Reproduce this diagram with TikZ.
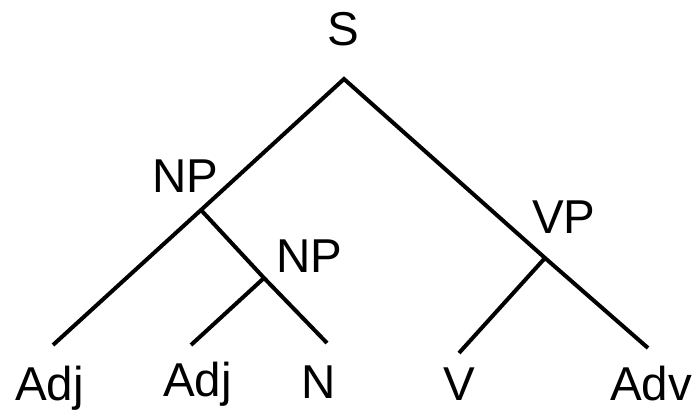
\documentclass[tikz,border=0pt]{standalone}
\usepackage{fontspec}
\setmainfont{Liberation Sans}
\begin{document}
\begin{tikzpicture}[x=1pt,y=-1pt,
  cat/.style={inner sep=0pt,outer sep=0pt,anchor=base west,font=\fontsize{47.5}{56}\selectfont},
  branch/.style={line width=4pt,black}]
\useasboundingbox (0,0) rectangle (692,409);
% category labels
\node[cat] (S)    at (327,46)  {S};
\node[cat] (NPa)  at (152,192) {NP};
\node[cat] (NPb)  at (276,272) {NP};
\node[cat] (VP)   at (532,233) {VP};
\node[cat] (Adja) at (15,400)  {Adj};
\node[cat] (Adjb) at (163,396) {Adj};
\node[cat] (N)    at (301,398) {N};
\node[cat] (V)    at (443,400) {V};
\node[cat] (Adv)  at (610,400) {Adv};
% branching points and branch ends
\coordinate (top)  at (344,79);
\coordinate (npa)  at (201,210);
\coordinate (npb)  at (264,278);
\coordinate (vp)   at (545,258);
\coordinate (ea)   at (53,345);
\coordinate (eb)   at (191,345);
\coordinate (en)   at (327,343);
\coordinate (ev)   at (459,353);
\coordinate (eadv) at (648,348);
% branches
\draw[branch] (ea) -- (npa) -- (top) -- (vp) -- (eadv);
\draw[branch] (npa) -- (npb) -- (en);
\draw[branch] (npb) -- (eb);
\draw[branch] (vp) -- (ev);
\end{tikzpicture}
\end{document}
